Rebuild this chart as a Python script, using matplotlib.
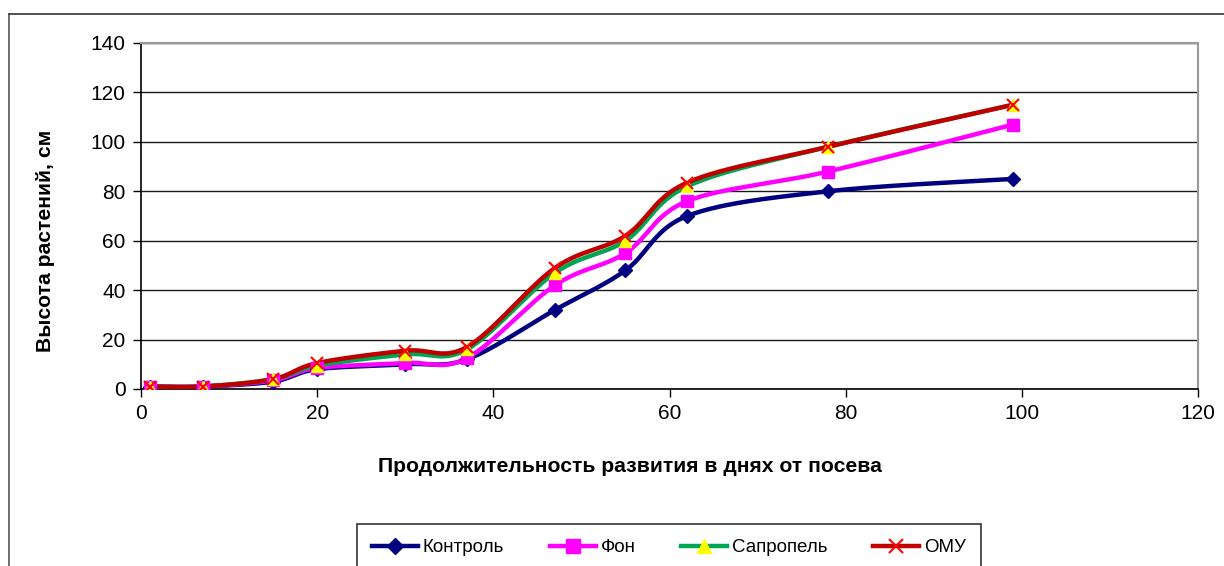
import numpy as np
import matplotlib.pyplot as plt
from matplotlib.lines import Line2D

plt.rcParams['font.family'] = ['Liberation Sans', 'DejaVu Sans']

# дни от посева
days = [1, 7, 15, 20, 30, 37, 47, 55, 62, 78, 99]

# высота растений, см
kontrol = [1, 1, 3, 8, 10, 12, 32, 48, 70, 80, 85]
fon = [1, 1, 3.5, 8.5, 10.5, 12.5, 42, 55, 76, 88, 107]
sapropel = [1, 1, 4, 9.5, 14, 16, 47, 60, 82, 98, 115]
omu = [1, 1, 4, 10.5, 15.5, 17, 49, 62, 83.5, 98, 115]

series_names = ['Контроль', 'Фон', 'Сапропель', 'ОМУ']


def smooth(x, y, n=30):
    # сглаженная линия как в Excel: кубические кривые Безье через точки
    p = np.column_stack([x, y]).astype(float)
    pts = np.vstack([p[0], p, p[-1]])
    out = []
    t = np.linspace(0, 1, n)[:, None]
    for i in range(1, len(pts) - 2):
        p0, p1, p2, p3 = pts[i - 1], pts[i], pts[i + 1], pts[i + 2]
        c1 = p1 + (p2 - p0) / 6
        c2 = p2 - (p3 - p1) / 6
        seg = ((1 - t) ** 3) * p1 + 3 * ((1 - t) ** 2) * t * c1 + 3 * (1 - t) * t ** 2 * c2 + t ** 3 * p2
        out.append(seg if i == 1 else seg[1:])
    s = np.vstack(out)
    return s[:, 0], s[:, 1]


fig = plt.figure(figsize=(12.24, 5.66), dpi=100)
ax = fig.add_axes([141 / 1224, 1 - 389 / 566, 1057 / 1224, 346 / 566])

styles = [
    dict(color='#000080', marker='D', mfc='#000080', mec='#000080', ms=7.5),
    dict(color='#FF00FF', marker='s', mfc='#FF00FF', mec='#FF00FF', ms=8.5),
    dict(color='#00A651', marker='^', mfc='#FFFF00', mec='#FFFF00', ms=8.5),
    dict(color='#C00000', marker='x', mfc='#FF0000', mec='#FF0000', ms=8.5, mew=1.5),
]
data = [kontrol, fon, sapropel, omu]

for vals, st in zip(data, styles):
    sx, sy = smooth(days, vals)
    ax.plot(sx, sy, color=st['color'], lw=3.2, solid_capstyle='round', zorder=3)
for vals, st in zip(data, styles):
    ax.plot(days, vals, ls='none', marker=st['marker'], ms=st['ms'],
            mfc=st['mfc'], mec=st['mec'], mew=st.get('mew', 1), zorder=4)

ax.set_xlim(0, 120)
ax.set_ylim(0, 140)
ax.set_xticks(range(0, 121, 20))
ax.set_yticks(range(0, 141, 20))
ax.yaxis.grid(True, color='#1a1a1a', lw=1)
ax.set_axisbelow(True)
ax.tick_params(labelsize=15, length=6, width=1, color='black', pad=5)
for side in ['left', 'bottom']:
    ax.spines[side].set_color('black')
    ax.spines[side].set_linewidth(1.2)
for side in ['right', 'top']:
    ax.spines[side].set_color('#999999')
    ax.spines[side].set_linewidth(1.5)

fig.text(630 / 1224, 1 - 466 / 566, 'Продолжительность развития в днях от посева',
         ha='center', va='center', fontsize=15.2, fontweight='bold')
fig.text(46 / 1224, 1 - 241 / 566, 'Высота растений, см', rotation=90,
         ha='center', va='center', fontsize=15.2, fontweight='bold')

# рамка области диаграммы
fig.add_artist(Line2D([9 / 1224, 9 / 1224], [0, 1 - 14 / 566], transform=fig.transFigure,
                      color='#555555', lw=1.2))
fig.add_artist(Line2D([9 / 1224, 1], [1 - 14 / 566, 1 - 14 / 566], transform=fig.transFigure,
                      color='#333333', lw=1.2))

handles = [Line2D([], [], color=st['color'], lw=3.2, marker=st['marker'], ms=st['ms'] + 1,
                  mfc=st['mfc'], mec=st['mec'], mew=st.get('mew', 1)) for st in styles]
leg = fig.legend(handles, series_names, loc='upper left',
                 bbox_to_anchor=(357 / 1224, 1 - 524 / 566), ncol=4, fontsize=13.5,
                 frameon=True, fancybox=False, edgecolor='#333333', framealpha=1,
                 handlelength=2.45, handletextpad=0.25, columnspacing=2.45,
                 borderpad=0.8, borderaxespad=0)
leg.get_frame().set_linewidth(1.2)

fig.savefig('out.png', dpi=100)
